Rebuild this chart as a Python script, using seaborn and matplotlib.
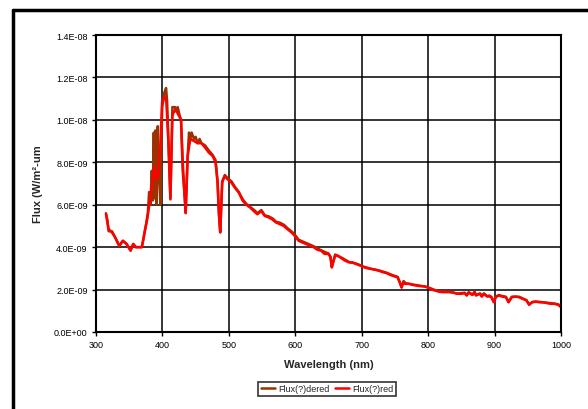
import numpy as np
import pandas as pd
import matplotlib
matplotlib.use("Agg")
import matplotlib.pyplot as plt
import seaborn as sns
from matplotlib.lines import Line2D

# wavelength (nm) and flux (1e-9 W/m2-um)
wl_red = [315, 319, 324, 329, 335, 340.5, 346, 352, 356, 360, 369, 371.5, 374, 377, 380,
          385.5, 388, 391, 394, 397, 399.6, 403.5, 406, 409, 412, 415, 419, 423, 428,
          430.5, 433, 435, 438, 442, 447.5, 453, 458.7, 464, 470, 475.5, 480, 483, 485,
          487, 490, 493.6, 498, 503.7, 509, 515, 520.6, 526, 532, 537.5, 543, 548.7, 554,
          560, 565.6, 571, 577, 582.5, 588, 594, 599, 605, 610.6, 616, 622, 627.5, 633,
          639, 644, 650, 653, 655, 657, 660, 664, 669.7, 675, 681, 686.6, 692, 698, 703.5,
          709, 714.7, 720, 726, 731.6, 737, 743, 748.5, 754, 757, 760, 762.5, 765, 771,
          776.6, 782, 788, 793.5, 799, 805, 810, 816, 821.6, 827, 833, 839, 844, 850, 855,
          858, 861, 866.6, 869.5, 872, 878, 880.7, 883.5, 889, 892, 895, 899, 901.6, 906,
          911.6, 917, 921, 925.7, 931, 937, 942.6, 948, 952, 956.6, 962, 968, 973.5, 979,
          984.8, 990, 996, 1000]
flux_red = [5.55, 4.85, 4.7, 4.45, 4.07, 4.3, 4.15, 3.83, 4.15, 4.0, 4.0, 4.4, 4.85, 5.3, 5.95,
            7.2, 7.8, 7.2, 7.4, 8.9, 10.9, 11.1, 10.8, 8.9, 6.25, 10.2, 10.5, 10.3, 10.0,
            8.1, 6.6, 5.6, 8.3, 9.1, 9.0, 8.9, 8.9, 8.7, 8.45, 8.3, 8.0, 7.05, 5.6,
            4.7, 7.05, 7.35, 7.2, 7.05, 6.8, 6.57, 6.2, 6.0, 5.87, 5.7, 5.55, 5.7, 5.47,
            5.4, 5.3, 5.16, 5.08, 5.0, 4.85, 4.7, 4.54, 4.3, 4.22, 4.15, 4.07, 4.0, 3.88,
            3.83, 3.68, 3.68, 3.52, 3.05, 3.28, 3.6, 3.6, 3.47, 3.36, 3.28, 3.28, 3.2, 3.13, 3.05,
            3.0, 2.97, 2.94, 2.89, 2.82, 2.78, 2.69, 2.63, 2.58, 2.35, 2.1, 2.35, 2.27, 2.27,
            2.22, 2.19, 2.16, 2.16, 2.1, 2.0, 1.96, 1.9, 1.88, 1.88, 1.88, 1.85, 1.8, 1.8, 1.83,
            1.72, 1.85, 1.75, 1.88, 1.72, 1.8, 1.67, 1.8, 1.67, 1.72, 1.64, 1.4, 1.64, 1.72,
            1.67, 1.64, 1.4, 1.64, 1.67, 1.64, 1.56, 1.49, 1.28, 1.4, 1.44, 1.4, 1.4, 1.36,
            1.33, 1.33, 1.28, 1.17]

# dereddened series: differs mostly in the Balmer region
wl_dered = [315, 317, 319, 324, 329, 335, 340.5, 346, 352, 356, 360, 369, 372, 375, 378,
            380, 382, 384, 385.5, 387, 388, 389.5, 391, 393, 395, 397, 399.6, 403, 405.5,
            407, 409, 412, 415, 419, 421, 423, 426, 428, 430.5, 433, 435, 438, 440, 442,
            444, 447.5, 450, 453, 456, 458.7, 464, 470, 475.5, 480, 483, 485, 487, 490,
            494, 498, 504, 509, 515, 521, 526, 532, 538, 543, 549, 554, 560, 566, 571, 577,
            583, 588, 594, 599, 605, 616, 627, 639, 650, 653, 655, 657, 660, 670, 681, 692,
            703, 714, 726, 737, 748, 754, 757, 760, 763, 766, 777, 788, 799, 810, 822, 833,
            844, 855, 858, 861, 867, 870, 872, 878, 881, 884, 889, 895, 899, 902, 906, 917,
            921, 926, 937, 948, 952, 957, 968, 979, 990, 996, 1000]
flux_dered = [5.6, 5.3, 4.75, 4.75, 4.45, 4.05, 4.3, 4.15, 3.85, 4.15, 4.0, 4.0, 4.5, 5.0, 5.6,
              6.6, 6.0, 7.6, 6.2, 9.4, 6.3, 9.5, 6.0, 9.7, 7.2, 6.0, 10.6, 11.3, 11.5,
              10.9, 9.0, 6.3, 10.6, 10.6, 10.4, 10.6, 10.2, 10.0, 7.6, 6.6, 5.7, 8.3, 9.4, 9.1,
              9.4, 9.1, 9.2, 8.9, 9.1, 8.9, 8.8, 8.55, 8.35, 8.1, 7.1, 5.6, 4.7, 7.1, 7.4,
              7.25, 7.1, 6.85, 6.6, 6.25, 6.05, 5.9, 5.75, 5.6, 5.75, 5.5, 5.45, 5.35, 5.2, 5.15,
              5.05, 4.9, 4.75, 4.6, 4.35, 4.2, 4.05, 3.85, 3.7, 3.55, 3.05, 3.3, 3.65, 3.5,
              3.3, 3.22, 3.08, 2.98, 2.9, 2.8, 2.66, 2.6, 2.38, 2.1, 2.4, 2.3, 2.24, 2.18, 2.12,
              1.98, 1.9, 1.89, 1.81, 1.85, 1.74, 1.88, 1.76, 1.9, 1.74, 1.82, 1.69, 1.82, 1.69,
              1.66, 1.42, 1.66, 1.74, 1.66, 1.42, 1.66, 1.66, 1.5, 1.3, 1.42, 1.42, 1.38, 1.34,
              1.3, 1.2]

df = pd.concat([
    pd.DataFrame({"Wavelength": wl_dered, "Flux": np.array(flux_dered) * 1e-9,
                  "Series": "Flux(?)dered"}),
    pd.DataFrame({"Wavelength": wl_red, "Flux": np.array(flux_red) * 1e-9,
                  "Series": "Flux(?)red"}),
], ignore_index=True)

sns.set_style("white")
plt.rcParams["font.family"] = ["Liberation Sans", "DejaVu Sans"]

fig = plt.figure(figsize=(5.88, 4.10), dpi=100)
ax = fig.add_axes([96 / 588, 1 - 333 / 410, (561 - 96) / 588, (333 - 36) / 410])

sns.lineplot(data=df, x="Wavelength", y="Flux", hue="Series", sort=False,
             palette={"Flux(?)dered": "#993300", "Flux(?)red": "#ff0000"},
             linewidth=1.8, estimator=None, legend=False, ax=ax)

ax.set_xlim(300, 1000)
ax.set_ylim(0, 1.4e-8)
ax.set_xticks(np.arange(300, 1001, 100))
ax.set_yticks(np.arange(0, 1.41e-8, 2e-9))
ax.set_yticklabels([f"{v:.1E}".replace("E-0", "E-0").replace("E+00", "E+00") for v in ax.get_yticks()])
ax.grid(True, color="black", linewidth=1.1)
for s in ax.spines.values():
    s.set_color("black")
    s.set_linewidth(1.5)
ax.tick_params(axis="both", labelsize=6.5, colors="black", length=3, width=1,
               direction="out", left=True, bottom=True, pad=3)
ax.set_xlabel("Wavelength (nm)", fontsize=8, fontweight="bold", labelpad=7)
ax.set_ylabel("Flux (W/m²-um", fontsize=8, fontweight="bold", labelpad=8)

handles = [Line2D([], [], color="#993300", lw=1.8), Line2D([], [], color="#ff0000", lw=1.8)]
leg = fig.legend(handles, ["Flux(?)dered", "Flux(?)red"], loc="center",
                 bbox_to_anchor=(327 / 588, 1 - 390 / 410), ncol=2, fontsize=6.5,
                 frameon=True, fancybox=False, edgecolor="black", handlelength=1.6,
                 handletextpad=0.3, columnspacing=0.6, borderpad=0.3)
leg.get_frame().set_linewidth(1.2)

# outer chart frame (cropped on right and bottom)
fig.add_artist(Line2D([12.5 / 588, 12.5 / 588], [0, 1 - 11 / 410], color="black", lw=2.5,
                      transform=fig.transFigure))
fig.add_artist(Line2D([12.5 / 588, 1], [1 - 11 / 410, 1 - 11 / 410], color="black", lw=2.5,
                      transform=fig.transFigure))

fig.savefig("out.png", dpi=100)
